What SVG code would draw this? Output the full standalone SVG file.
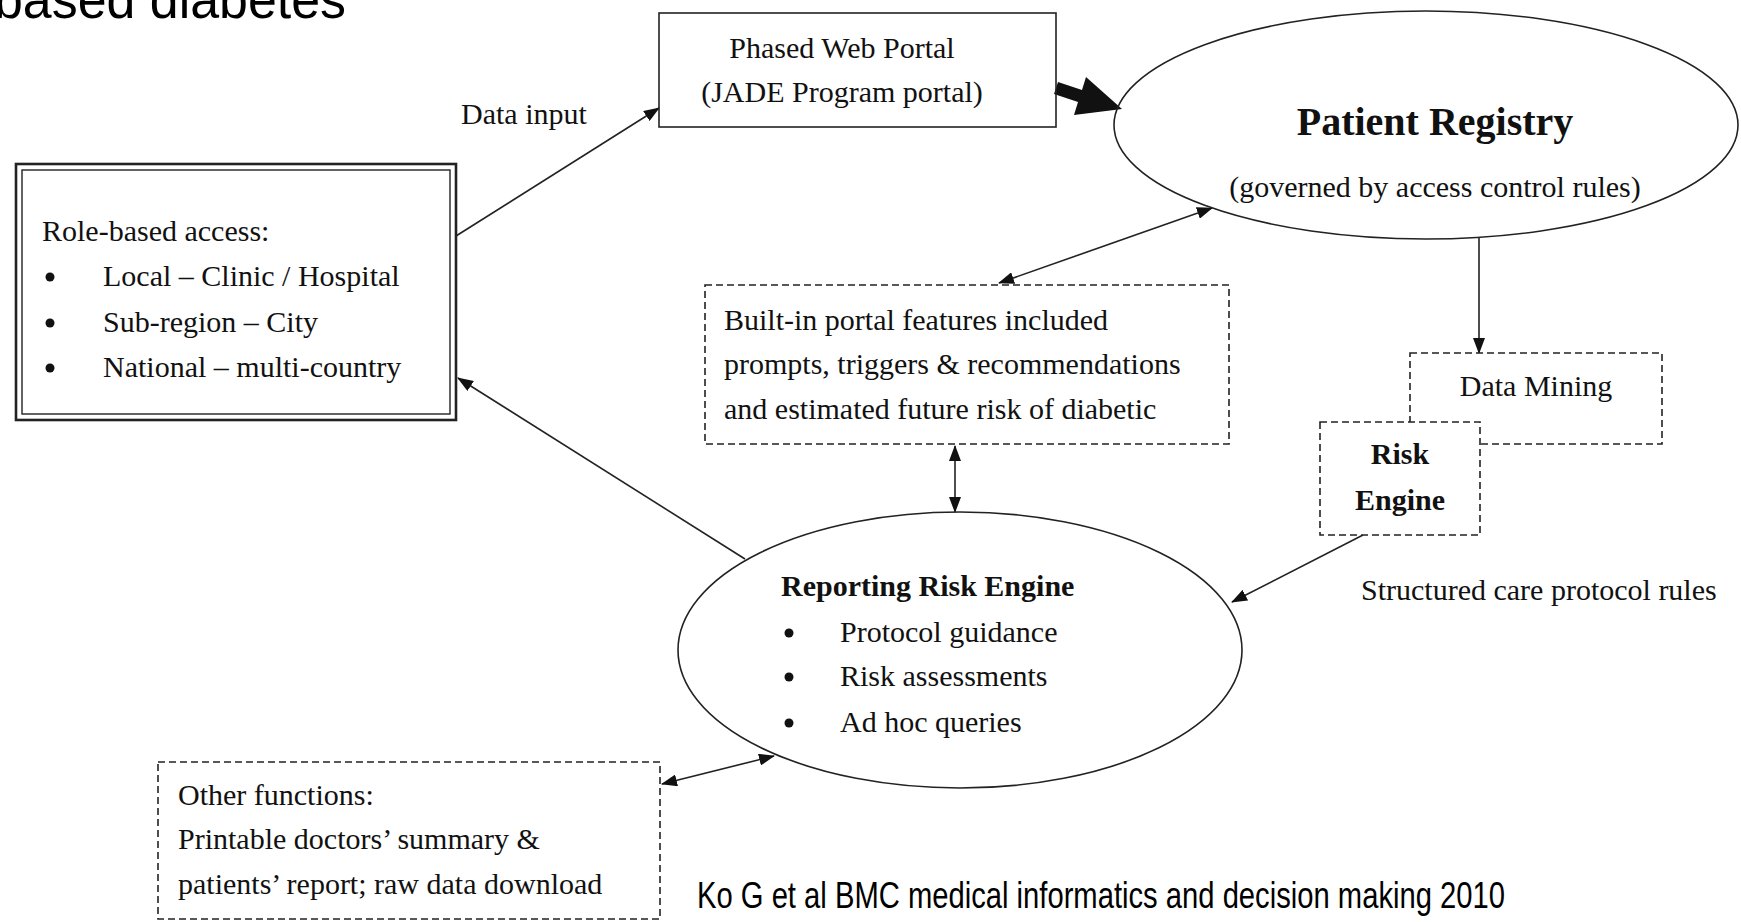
<svg xmlns="http://www.w3.org/2000/svg" width="1741" height="922" viewBox="0 0 1741 922">
<defs>
<style>
.t{font-family:"Liberation Serif","Times New Roman",serif;font-size:30px;fill:#111}
.b{font-weight:bold}
.big{font-size:40px}
.box{fill:none;stroke:#222;stroke-width:1.6}
.dash{fill:#fff;stroke:#222;stroke-width:1.6;stroke-dasharray:7 4}
.ell{fill:none;stroke:#222;stroke-width:1.6}
.ln{fill:none;stroke:#222;stroke-width:1.6}
.arr{marker-end:url(#ah)}
.dbl{marker-end:url(#ah);marker-start:url(#ah)}
.sans{font-family:"Liberation Sans",Arial,sans-serif;fill:#000}
</style>
<marker id="ah" viewBox="0 0 16 12" refX="15" refY="6" markerWidth="16" markerHeight="12" markerUnits="userSpaceOnUse" orient="auto-start-reverse">
<path d="M0,0 L16,6 L0,12 z" fill="#111"/>
</marker>
</defs>
<rect width="1741" height="922" fill="#fff"/>
<text class="sans" x="-6" y="18" font-size="54" textLength="352" lengthAdjust="spacingAndGlyphs">based diabetes</text>

<g id="connectors">
<line class="ln arr" x1="456" y1="236" x2="659" y2="108"/>
<polygon points="1054,94 1078,102 1074,115 1122,109 1086,77 1082,90 1058,82" fill="#111"/>
<line class="ln dbl" x1="999" y1="283" x2="1212" y2="208"/>
<line class="ln dbl" x1="955" y1="446" x2="955" y2="512"/>
<line class="ln arr" x1="745" y1="559" x2="458" y2="378"/>
<line class="ln arr" x1="1479" y1="238" x2="1479" y2="353"/>
<line class="ln arr" x1="1363" y1="535" x2="1232" y2="602"/>
<line class="ln dbl" x1="662" y1="784" x2="774" y2="756"/>
</g>

<g id="label-data-input"><text class="t" x="461" y="124">Data input</text></g>

<g id="phased-portal">
<rect class="box" x="659" y="13" width="397" height="114"/>
<text class="t" x="842" y="58" text-anchor="middle">Phased Web Portal</text>
<text class="t" x="842" y="102" text-anchor="middle">(JADE Program portal)</text>
</g>

<g id="patient-registry">
<ellipse class="ell" cx="1426" cy="125" rx="312" ry="114"/>
<text class="t b big" x="1435" y="135" text-anchor="middle">Patient Registry</text>
<text class="t" x="1435" y="197" text-anchor="middle">(governed by access control rules)</text>
</g>

<g id="role-access">
<rect x="16" y="164" width="440" height="256" fill="none" stroke="#222" stroke-width="2.6"/>
<rect x="22" y="170" width="428" height="244" fill="none" stroke="#222" stroke-width="1.4"/>
<text class="t" x="42" y="241">Role-based access:</text>
<circle cx="50" cy="277" r="4.5" fill="#111"/>
<text class="t" x="103" y="286">Local – Clinic / Hospital</text>
<circle cx="50" cy="323" r="4.5" fill="#111"/>
<text class="t" x="103" y="332">Sub-region – City</text>
<circle cx="50" cy="368" r="4.5" fill="#111"/>
<text class="t" x="103" y="377">National – multi-country</text>
</g>

<g id="built-in-features">
<rect class="dash" x="705" y="285" width="524" height="159"/>
<text class="t" x="724" y="330">Built-in portal features included</text>
<text class="t" x="724" y="374">prompts, triggers &amp; recommendations</text>
<text class="t" x="724" y="419">and estimated future risk of diabetic</text>
</g>

<g id="data-mining">
<rect class="dash" x="1410" y="353" width="252" height="91"/>
<text class="t" x="1536" y="396" text-anchor="middle">Data Mining</text>
</g>

<g id="risk-engine">
<rect class="dash" x="1320" y="422" width="160" height="113"/>
<text class="t b" x="1400" y="464" text-anchor="middle">Risk</text>
<text class="t b" x="1400" y="510" text-anchor="middle">Engine</text>
</g>

<g id="label-structured"><text class="t" x="1361" y="600">Structured care protocol rules</text></g>

<g id="reporting-risk-engine">
<ellipse class="ell" cx="960" cy="650" rx="282" ry="138"/>
<text class="t b" x="781" y="596">Reporting Risk Engine</text>
<circle cx="789" cy="633" r="4.5" fill="#111"/>
<text class="t" x="840" y="642">Protocol guidance</text>
<circle cx="789" cy="677" r="4.5" fill="#111"/>
<text class="t" x="840" y="686">Risk assessments</text>
<circle cx="789" cy="723" r="4.5" fill="#111"/>
<text class="t" x="840" y="732">Ad hoc queries</text>
</g>

<g id="other-functions">
<rect class="dash" x="158" y="762" width="502" height="157"/>
<text class="t" x="178" y="805">Other functions:</text>
<text class="t" x="178" y="849">Printable doctors’ summary &amp;</text>
<text class="t" x="178" y="894">patients’ report; raw data download</text>
</g>

<g id="citation">
<text class="sans" x="697" y="908" font-size="37" textLength="808" lengthAdjust="spacingAndGlyphs">Ko G et al BMC medical informatics and decision making 2010</text>
</g>
</svg>
